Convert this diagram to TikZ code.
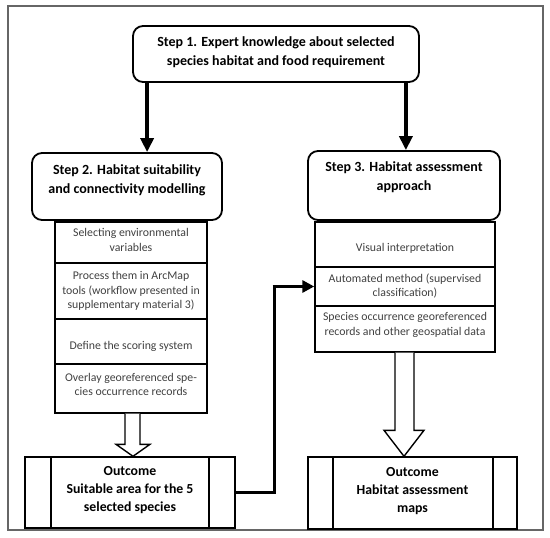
\documentclass[tikz,border=0pt]{standalone}
\usepackage{fontspec}
\setmainfont{Carlito}
\usetikzlibrary{arrows.meta,calc}
\begin{document}
\begin{tikzpicture}[x=1pt,y=-1pt,
  stepbox/.style={draw=black,line width=1.8pt,rounded corners=10pt,inner sep=0pt},
  cellbox/.style={draw=black,line width=1.4pt,inner sep=0pt},
  outbox/.style={draw=black,line width=1.4pt,inner sep=0pt},
  steptxt/.style={font=\fontsize{14}{19}\selectfont\bfseries,align=center,inner sep=0pt},
  celltxt/.style={font=\fontsize{11.8}{14.5}\selectfont,text=black!75,align=center,inner sep=0pt},
  outtxt/.style={font=\fontsize{13.8}{18}\selectfont\bfseries,align=center,inner sep=0pt},
  bigarrow/.style={line width=3.6pt,-{Triangle[length=14pt,width=13pt]}},
  hollow/.style={draw=black,line width=1.4pt,fill=white,line join=miter}
]
\useasboundingbox (0,0) rectangle (550,538);
\node[draw=black!60,line width=1.5pt,minimum width=535pt,minimum height=524pt,inner sep=0pt] (frame) at (275.5,268) {};

% step boxes
\node[stepbox,minimum width=286pt,minimum height=56pt] (s1) at (276,54) {};
\node[stepbox,minimum width=190pt,minimum height=67pt] (s2) at (127,186.5) {};
\node[stepbox,minimum width=192pt,minimum height=69pt] (s3) at (404,185.5) {};
\node[steptxt] (t1) at (276,52.5) {Step 1. Expert knowledge about selected\\species habitat and food requirement};
\node[steptxt] (t2) at (127,180) {Step 2. Habitat suitability\\and connectivity modelling};
\node[steptxt] (t3) at (404,177.5) {Step 3. Habitat assessment\\approach};

% left stack
\node[cellbox,minimum width=152pt,minimum height=41pt] (l1) at (131,242.5) {};
\node[cellbox,minimum width=152pt,minimum height=56pt] (l2) at (131,291) {};
\node[cellbox,minimum width=152pt,minimum height=45pt] (l3) at (131,341.5) {};
\node[cellbox,minimum width=152pt,minimum height=49pt] (l4) at (131,388.5) {};
\node[celltxt] (lt1) at (131,240) {Selecting environmental\\variables};
\node[celltxt] (lt2) at (131,291) {Process them in ArcMap\\tools (workflow presented in\\supplementary material 3)};
\node[celltxt] (lt3) at (131,346) {Define the scoring system};
\node[celltxt] (lt4) at (131,384.5) {Overlay georeferenced spe-\\cies occurrence records};

% right stack
\node[cellbox,minimum width=180pt,minimum height=45pt] (r1) at (405,244.5) {};
\node[cellbox,minimum width=180pt,minimum height=39pt] (r2) at (405,286.5) {};
\node[cellbox,minimum width=180pt,minimum height=46pt] (r3) at (405,329) {};
\node[celltxt] (rt1) at (405,248) {Visual interpretation};
\node[celltxt] (rt2) at (405,286) {Automated method (supervised\\classification)};
\node[celltxt] (rt3) at (405,325) {Species occurrence georeferenced\\records and other geospatial data};

% outcome boxes
\node[outbox,minimum width=210pt,minimum height=71pt] (lo) at (130,492.5) {};
\draw[line width=1.4pt] (51,457) -- (51,528) (209,457) -- (209,528);
\node[outbox,minimum width=209pt,minimum height=72pt] (ro) at (412.5,493) {};
\draw[line width=1.4pt] (333,457) -- (333,529) (493,457) -- (493,529);
\node[outtxt] (lot) at (130,490) {Outcome\\Suitable area for the 5\\selected species};
\node[outtxt] (rot) at (412.5,491) {Outcome\\Habitat assessment\\maps};

% black arrows from step 1
\coordinate (a1) at ([xshift=15pt]s1.south west);
\coordinate (a2) at ([xshift=-14pt]s1.south east);
\draw[bigarrow] (a1) -- (a1 |- s2.north);
\draw[bigarrow] (a2) -- (a2 |- s3.north);

% elbow arrow
\coordinate (e1) at ($(r2.west)+(-40,0)$);
\draw[line width=3.6pt,line join=miter] (lo.east) -| (e1);
\draw[line width=3.6pt,-{Triangle[length=12pt,width=12pt]}] ([xshift=-1.8pt]e1) -- (r2.west);

% hollow arrows
\coordinate (hl) at (l4.south |- lo.north);
\draw[hollow] ($(l4.south)+(-6,0)$) -- ($(hl)+(-6,-12)$) -- ($(hl)+(-15,-12)$) -- ($(hl)+(2,0)$)
  -- ($(hl)+(19,-12)$) -- ($(hl)+(9,-12)$) -- ($(l4.south)+(9,0)$);
\coordinate (hr) at (r3.south |- ro.north);
\draw[hollow] ($(r3.south)+(-10,0)$) -- ($(hr)+(-10,-26)$) -- ($(hr)+(-21,-26)$) -- ($(hr)+(-1,0)$)
  -- ($(hr)+(19,-26)$) -- ($(hr)+(9,-26)$) -- ($(r3.south)+(9,0)$);
\end{tikzpicture}
\end{document}
